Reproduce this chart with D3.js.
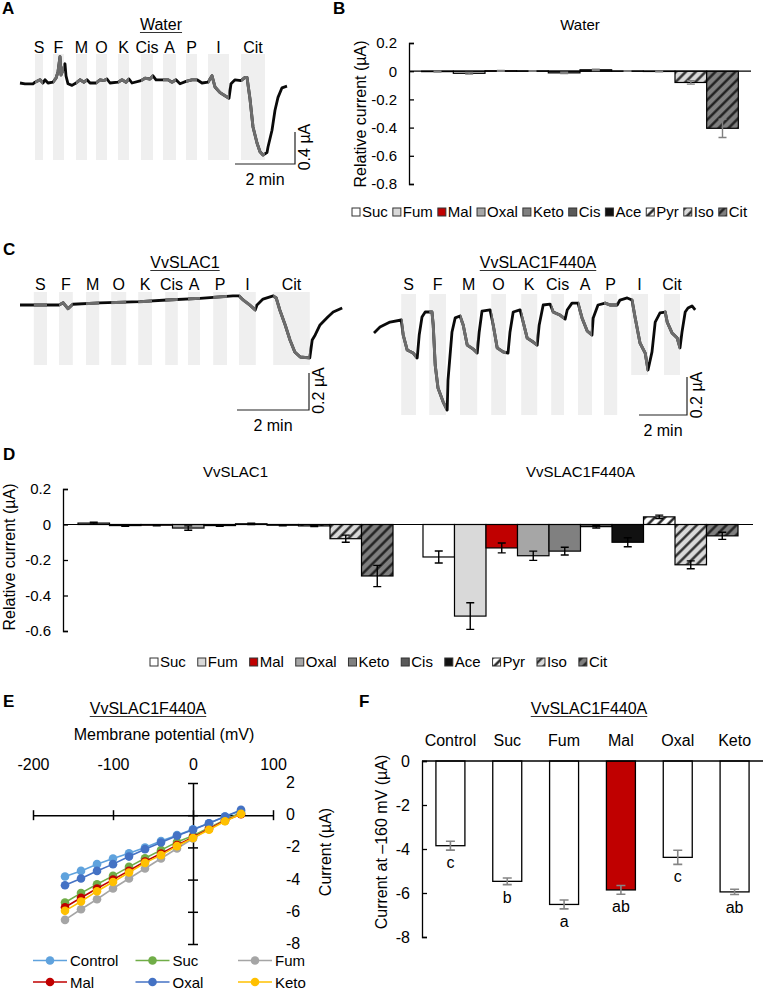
<!DOCTYPE html>
<html>
<head>
<meta charset="utf-8">
<script src="https://cdn.jsdelivr.net/npm/d3@7"></script>
<style>
  body { margin: 0; background: #fff; }
  svg { display: block; font-family: "Liberation Sans", Arial, sans-serif; }
</style>
</head>
<body>
<div id="container"></div>
<script>
// ---------------- data ----------------
var ions = ["Suc", "Fum", "Mal", "Oxal", "Keto", "Cis", "Ace", "Pyr", "Iso", "Cit"];
var traceLabels = ["S", "F", "M", "O", "K", "Cis", "A", "P", "I", "Cit"];

// recordings: [time (s), current (uA) relative to start]
var waterTrace = [[0,0],[10,-0.01],[26,-0.01],[30,0.01],[40,0.04],[46,0],[50,0.04],[56,0],[66,0.01],[72,0.06],[76,0.14],[80,0.33],[82,0.1],[86,0.16],[90,0.24],[92,0.09],[96,-0.01],[104,-0.03],[112,0],[120,0.04],[128,0.01],[134,0.04],[140,0],[152,0],[160,0.04],[168,0.03],[174,0.05],[180,0],[196,0.01],[204,0.04],[212,0.01],[218,0.05],[224,0],[242,0.03],[250,0.06],[260,0.05],[266,0.09],[272,0.04],[286,0.04],[296,0.04],[304,0.01],[312,0.04],[320,-0.01],[332,0.02],[344,0.04],[354,0.04],[364,0],[376,0.01],[384,0.09],[390,-0.05],[400,-0.12],[410,-0.16],[418,-0.19],[422,-0.01],[430,0.04],[442,0.03],[450,0.07],[454,0.07],[460,-0.2],[466,-0.55],[474,-0.75],[480,-0.86],[486,-0.9],[494,-0.87],[496,-0.8],[504,-0.59],[510,-0.34],[516,-0.18],[524,-0.06],[534,-0.04]];
var waterBands = [[30,46],[66,88],[112,134],[152,174],[196,218],[242,266],[286,312],[332,354],[376,418],[442,490]];

var slac1Trace = [[0,0],[40,0],[65,0],[72,0.012],[80,-0.02],[88,0.004],[133,0.011],[200,0.018],[245,0.027],[300,0.036],[355,0.049],[365,0.049],[372,0.027],[383,0],[392,-0.027],[395,0],[405,0.032],[422,0.049],[427,0.038],[433,-0.027],[442,-0.108],[450,-0.189],[458,-0.254],[467,-0.281],[483,-0.286],[487,-0.189],[492,-0.162],[500,-0.108],[513,-0.065],[522,-0.038],[537,-0.016]];
var slac1Bands = [[23,45],[65,88],[110,132],[152,177],[197,220],[242,263],[280,300],[322,345],[365,393],[422,483]];

var f440aTrace = [[0,-0.068],[15,-0.037],[40,-0.011],[68,0],[73,-0.079],[83,-0.158],[98,-0.174],[108,-0.2],[113,-0.079],[120,0.016],[128,0.042],[145,0.042],[148,-0.026],[153,-0.237],[160,-0.358],[173,-0.432],[183,-0.474],[185,-0.316],[195,-0.063],[203,0.011],[215,0.021],[223,-0.026],[233,-0.132],[248,-0.153],[258,-0.174],[263,-0.063],[270,0.047],[290,0.053],[298,-0.026],[308,-0.147],[323,-0.168],[335,-0.174],[340,-0.063],[348,0.042],[365,0.053],[373,-0.011],[383,-0.095],[398,-0.116],[408,-0.132],[413,-0.026],[423,0.079],[440,0.084],[448,0.042],[465,0.026],[478,0.005],[483,0.053],[495,0.089],[510,0.089],[520,0.011],[533,-0.058],[545,-0.079],[548,0.011],[560,0.079],[578,0.089],[590,0.079],[608,0.079],[615,0.105],[633,0.116],[645,0.105],[653,0.011],[665,-0.121],[678,-0.174],[685,-0.263],[695,-0.168],[703,-0.011],[715,0.037],[728,0.042],[733,-0.011],[745,-0.068],[758,-0.095],[765,-0.147],[770,-0.063],[778,0.042],[785,0.063],[795,0.074],[803,0.053]];
var f440aBands = [[68,105],[138,180],[215,258],[293,330],[368,408],[443,475],[510,545],[575,608],[643,685],[725,765]];

// bar charts: mean and error per ion (uA)
var waterMean = [-0.003, -0.015, 0.003, 0.002, -0.012, 0.01, 0.001, -0.002, -0.08, -0.405];
var waterErr  = [0.003, 0.006, 0.003, 0.002, 0.005, 0.005, 0.002, 0.002, 0.012, 0.065];
var slac1Mean = [0.008, -0.006, -0.004, -0.02, -0.006, 0.004, -0.004, -0.008, -0.08, -0.29];
var slac1Err  = [0.005, 0.004, 0.003, 0.012, 0.004, 0.004, 0.003, 0.004, 0.02, 0.06];
var f440aMean = [-0.183, -0.516, -0.132, -0.176, -0.15, -0.012, -0.1, 0.043, -0.227, -0.064];
var f440aErr  = [0.034, 0.075, 0.028, 0.026, 0.022, 0.008, 0.025, 0.01, 0.022, 0.02];

// I-V curves
var ivVoltage = [-160, -140, -120, -100, -80, -60, -40, -20, 0, 20, 40, 60];
var ivSeries = ["Control", "Suc", "Fum", "Mal", "Oxal", "Keto"];
var ivControl = [-3.81, -3.46, -3.04, -2.69, -2.36, -2.01, -1.6, -1.24, -0.87, -0.5, -0.08, 0.27];
var ivSuc     = [-5.42, -4.84, -4.29, -3.77, -3.21, -2.67, -2.17, -1.66, -1.28, -0.77, -0.29, 0.17];
var ivFum     = [-6.5, -5.84, -5.22, -4.55, -3.93, -3.31, -2.69, -2.07, -1.45, -0.83, -0.35, 0.1];
var ivMal     = [-5.72, -5.13, -4.55, -4.0, -3.45, -2.88, -2.38, -1.86, -1.36, -0.85, -0.33, 0.06];
var ivOxal    = [-4.35, -3.93, -3.46, -3.04, -2.57, -2.11, -1.7, -1.28, -0.91, -0.5, -0.08, 0.33];
var ivKeto    = [-5.94, -5.36, -4.72, -4.15, -3.56, -2.96, -2.48, -1.92, -1.42, -0.9, -0.38, 0.08];

// current at -160 mV
var f160Cats = ["Control", "Suc", "Fum", "Mal", "Oxal", "Keto"];
var f160Mean = [-3.85, -5.47, -6.52, -5.86, -4.38, -5.95];
var f160Err  = [0.2, 0.15, 0.2, 0.2, 0.32, 0.12];
var f160Letters = ["c", "b", "a", "ab", "c", "ab"];

// ---------------- setup ----------------
var svg = d3.select("div#container").append("svg")
  .attr("width", 763).attr("height", 991)
  .attr("viewBox", "0 0 763 991");

var defs = svg.append("defs");
function hatch(id, bg, fg) {
  var p = defs.append("pattern").attr("id", id)
    .attr("patternUnits", "userSpaceOnUse")
    .attr("width", 7).attr("height", 7)
    .attr("patternTransform", "rotate(45)");
  p.append("rect").attr("width", 7).attr("height", 7).attr("fill", bg);
  p.append("line").attr("x1", 1.5).attr("x2", 1.5).attr("y1", 0).attr("y2", 7)
    .attr("stroke", fg).attr("stroke-width", 2.3);
}
hatch("hPyr", "#ffffff", "#111");
hatch("hIso", "#d9d9d9", "#222");
hatch("hCit", "#7f7f7f", "#1a1a1a");

var ionFill = {Suc: "#ffffff", Fum: "#d9d9d9", Mal: "#c00000", Oxal: "#a6a6a6", Keto: "#808080",
  Cis: "#595959", Ace: "#111111", Pyr: "url(#hPyr)", Iso: "url(#hIso)", Cit: "url(#hCit)"};
var ivColor = {Control: "#5fa2dd", Suc: "#70ad47", Fum: "#a5a5a5", Mal: "#c00000", Oxal: "#4472c4", Keto: "#ffc000"};
var ivData = {Control: ivControl, Suc: ivSuc, Fum: ivFum, Mal: ivMal, Oxal: ivOxal, Keto: ivKeto};

function txt(x, y, s, size, anchor) {
  return svg.append("text").attr("x", x).attr("y", y)
    .attr("text-anchor", anchor || "middle")
    .style("font-size", size + "px").attr("fill", "#000").text(s);
}
function title(x, y, s, size, underline) {
  var t = txt(x, y, s, size);
  if (underline) {
    var w = t.node().getComputedTextLength();
    svg.append("line").attr("x1", x - w / 2).attr("x2", x + w / 2)
      .attr("y1", y + 2.5).attr("y2", y + 2.5)
      .attr("stroke", "#333").attr("stroke-width", 1.1);
  }
}
function rotText(x, y, s, size) {
  svg.append("text").attr("transform", "translate(" + x + "," + y + ") rotate(-90)")
    .attr("text-anchor", "middle").style("font-size", size + "px").text(s);
}
function panelLetter(x, y, s) {
  svg.append("text").attr("x", x).attr("y", y).style("font-size", "17px")
    .style("font-weight", "bold").text(s);
}

// ---------------- recordings (A, C) ----------------
function drawTrace(o) {
  var x = d3.scaleLinear().domain([0, 120]).range([o.left, o.left + o.px2min]);
  var y = d3.scaleLinear().domain([-1, 0]).range([o.base + o.pxPerUA, o.base]);
  var g = svg.append("g");

  g.selectAll("rect.band").data(o.bands).enter().append("rect")
    .attr("class", "band")
    .attr("x", function(d) { return x(d[0]); })
    .attr("width", function(d) { return x(d[1]) - x(d[0]); })
    .attr("y", o.bandTop)
    .attr("height", function(d, i) { return (o.shortBands && o.shortBands.indexOf(i) >= 0 ? o.shortBottom : o.bandBottom) - o.bandTop; })
    .attr("fill", "#efefef");

  g.selectAll("text.lab").data(o.bands).enter().append("text")
    .attr("class", "lab")
    .attr("x", function(d) { return x((d[0] + d[1]) / 2); })
    .attr("y", o.labelY)
    .attr("text-anchor", "middle")
    .style("font-size", "16px")
    .text(function(d, i) { return traceLabels[i]; });

  var clip = defs.append("clipPath").attr("id", o.id + "clip");
  clip.selectAll("rect").data(o.bands).enter().append("rect")
    .attr("x", function(d) { return x(d[0]); })
    .attr("width", function(d) { return x(d[1]) - x(d[0]); })
    .attr("y", 0).attr("height", 991);

  var line = d3.line().x(function(d) { return x(d[0]); }).y(function(d) { return y(d[1]); });
  g.append("path").datum(o.data).attr("d", line)
    .attr("fill", "none").attr("stroke", "#0a0a0a").attr("stroke-width", 2.8)
    .attr("stroke-linejoin", "round");
  g.append("path").datum(o.data).attr("d", line)
    .attr("clip-path", "url(#" + o.id + "clip)")
    .attr("fill", "none").attr("stroke", "#6c6c6c").attr("stroke-width", 3)
    .attr("stroke-linejoin", "round");

  title(o.titleX, o.titleY, o.title, 16, true);

  // scale bar
  var bw = x(120) - x(0), bh = y(-o.barUA) - y(0);
  g.append("path")
    .attr("d", "M" + (o.barX - bw) + "," + o.barY + "H" + o.barX + "V" + (o.barY - bh))
    .attr("fill", "none").attr("stroke", "#222").attr("stroke-width", 1.2);
  rotText(o.barX + 15, o.barY - bh / 2 - 1, o.barUA + " µA", 16);
  txt(o.barX - bw / 2, o.barY + 21, "2 min", 16);
}

drawTrace({id: "water", data: waterTrace, bands: waterBands, left: 20, px2min: 60, base: 83, pxPerUA: 80,
  bandTop: 54, bandBottom: 160, labelY: 53, title: "Water", titleX: 161, titleY: 30,
  barX: 295, barY: 164, barUA: 0.4});
drawTrace({id: "slac1", data: slac1Trace, bands: slac1Bands, left: 20, px2min: 72, base: 305, pxPerUA: 185,
  bandTop: 292, bandBottom: 365, labelY: 290, title: "VvSLAC1", titleX: 185, titleY: 268,
  barX: 309, barY: 410, barUA: 0.2});
drawTrace({id: "f440a", data: f440aTrace, bands: f440aBands, left: 374, px2min: 48, base: 320, pxPerUA: 190,
  bandTop: 294, bandBottom: 415, shortBands: [8, 9], shortBottom: 375, labelY: 290,
  title: "VvSLAC1F440A", titleX: 538, titleY: 268, barX: 687, barY: 415, barUA: 0.2});

// ---------------- bar charts (B, D) ----------------
function fmt1(d) { return d === 0 ? "0" : d.toFixed(1); }

function barPanel(o) {
  var y = d3.scaleLinear().domain(o.yDomain).range(o.yRange);
  var x0 = d3.scaleBand().domain(o.groups).range(o.xRange);
  var x1 = d3.scaleBand().domain(ions).range([0, x0.bandwidth()]).paddingOuter(o.outer);
  var g = svg.append("g");

  o.groups.forEach(function(grp, gi) {
    var rows = ions.map(function(ion, i) { return {ion: ion, m: o.means[gi][i], e: o.errs[gi][i]}; });
    var gg = g.append("g").attr("transform", "translate(" + x0(grp) + ",0)");
    gg.selectAll("rect").data(rows).enter().append("rect")
      .attr("x", function(d) { return x1(d.ion); })
      .attr("width", x1.bandwidth())
      .attr("y", function(d) { return y(Math.max(0, d.m)); })
      .attr("height", function(d) { return Math.abs(y(d.m) - y(0)); })
      .attr("fill", function(d) { return ionFill[d.ion]; })
      .attr("stroke", "#000").attr("stroke-width", 1.2);
    title(x0(grp) + x0.bandwidth() / 2, o.titleY, grp, 15, false);
  });

  g.append("line").attr("x1", o.xRange[0]).attr("x2", o.xRange[1])
    .attr("y1", y(0)).attr("y2", y(0)).attr("stroke", "#000").attr("stroke-width", 1.2);

  o.groups.forEach(function(grp, gi) {
    var rows = ions.map(function(ion, i) { return {ion: ion, m: o.means[gi][i], e: o.errs[gi][i]}; });
    var eg = g.append("g").attr("transform", "translate(" + x0(grp) + ",0)")
      .attr("stroke", o.errColor).attr("stroke-width", 1.4);
    rows.forEach(function(d) {
      var cx = x1(d.ion) + x1.bandwidth() / 2;
      eg.append("path").attr("fill", "none").attr("d",
        "M" + cx + "," + y(d.m - d.e) + "V" + y(d.m + d.e) +
        "M" + (cx - 4) + "," + y(d.m - d.e) + "H" + (cx + 4) +
        "M" + (cx - 4) + "," + y(d.m + d.e) + "H" + (cx + 4));
    });
  });

  g.append("g").attr("transform", "translate(" + o.xRange[0] + ",0)")
    .call(d3.axisLeft(y).tickValues(o.ticks).tickSizeInner(-5).tickSizeOuter(-5).tickPadding(12).tickFormat(fmt1))
    .call(function(a) {
      a.selectAll("text").style("font-size", "15px").attr("fill", "#000").attr("font-family", null);
      a.selectAll("path, line").attr("stroke", "#000").attr("stroke-width", 1.3);
    });

  rotText(o.yTitleX, o.yTitleY, "Relative current (µA)", 16);

  // legend
  var lx = o.legendX;
  ions.forEach(function(ion) {
    g.append("rect").attr("x", lx).attr("y", o.legendY - 9).attr("width", 8).attr("height", 8)
      .attr("fill", ionFill[ion]).attr("stroke", "#333").attr("stroke-width", 1);
    var t = g.append("text").attr("x", lx + 10).attr("y", o.legendY)
      .style("font-size", "15px").text(ion);
    lx += 10 + t.node().getComputedTextLength() + o.legendGap;
  });
}

barPanel({groups: ["Water"], means: [waterMean], errs: [waterErr],
  yDomain: [-0.8, 0.2], yRange: [184, 43], ticks: [0.2, 0, -0.2, -0.4, -0.6, -0.8],
  xRange: [409, 751], outer: 0.4, titleY: 30, errColor: "#808080",
  yTitleX: 366, yTitleY: 114, legendX: 352, legendY: 217, legendGap: 5});

barPanel({groups: ["VvSLAC1", "VvSLAC1F440A"], means: [slac1Mean, f440aMean], errs: [slac1Err, f440aErr],
  yDomain: [-0.6, 0.2], yRange: [631, 489], ticks: [0.2, 0, -0.2, -0.4, -0.6],
  xRange: [63, 753], outer: 0.476, titleY: 477, errColor: "#000",
  yTitleX: 15, yTitleY: 557, legendX: 150, legendY: 667, legendGap: 11.9});

// ---------------- I-V curves (E) ----------------
(function() {
  var x = d3.scaleLinear().domain([-200, 100]).range([33, 273]);
  var y = d3.scaleLinear().domain([-8, 2]).range([944, 783]);

  title(148, 714, "VvSLAC1F440A", 16, true);
  txt(164, 740, "Membrane potential (mV)", 16);

  var gx = svg.append("g").attr("transform", "translate(0," + y(0) + ")")
    .call(d3.axisBottom(x).tickValues([-200, -100, 0, 100]).tickSizeOuter(0).tickFormat(""));
  gx.selectAll(".tick line").attr("y1", -5).attr("y2", 5);
  var gy = svg.append("g").attr("transform", "translate(" + x(0) + ",0)")
    .call(d3.axisLeft(y).tickValues([2, 0, -2, -4, -6, -8]).tickSizeOuter(0).tickFormat(""));
  gy.selectAll(".tick line").attr("x1", -5).attr("x2", 5);
  [gx, gy].forEach(function(a) {
    a.selectAll("path, line").attr("stroke", "#000").attr("stroke-width", 1.5);
  });

  svg.append("g").attr("transform", "translate(0,770)")
    .call(d3.axisTop(x).tickValues([-200, -100, 0, 100]).tickSize(0).tickPadding(0).tickFormat(String))
    .call(function(a) { a.select(".domain").remove(); a.selectAll("text").style("font-size", "16px").attr("fill", "#000"); });
  svg.append("g").attr("transform", "translate(286,0)")
    .call(d3.axisRight(y).tickValues([2, 0, -2, -4, -6, -8]).tickSize(0).tickPadding(0).tickFormat(String))
    .call(function(a) {
      a.select(".domain").remove();
      a.selectAll("text").style("font-size", "16px").attr("fill", "#000").attr("dy", "0.28em");
    });

  rotText(331, 852, "Current (µA)", 16);

  var line = d3.line().x(function(d) { return x(d[0]); }).y(function(d) { return y(d[1]); });
  ivSeries.forEach(function(s) {
    var pts = ivVoltage.map(function(v, i) { return [v, ivData[s][i]]; });
    var g = svg.append("g");
    g.append("path").datum(pts).attr("d", line).attr("fill", "none")
      .attr("stroke", ivColor[s]).attr("stroke-width", 1.6);
    g.selectAll("circle").data(pts).enter().append("circle")
      .attr("cx", function(d) { return x(d[0]); })
      .attr("cy", function(d) { return y(d[1]); })
      .attr("r", 4.3).attr("fill", ivColor[s]);
  });

  ivSeries.forEach(function(s, i) {
    var lx = 33 + (i % 3) * 102.5, ly = 960.5 + Math.floor(i / 3) * 21.5;
    svg.append("line").attr("x1", lx).attr("x2", lx + 34).attr("y1", ly).attr("y2", ly)
      .attr("stroke", ivColor[s]).attr("stroke-width", 1.6);
    svg.append("circle").attr("cx", lx + 17).attr("cy", ly).attr("r", 4.3).attr("fill", ivColor[s]);
    txt(lx + 37, ly + 5.5, s, 15, "start");
  });
})();

// ---------------- current at -160 mV (F) ----------------
(function() {
  var x = d3.scaleBand().domain(f160Cats).range([422, 763]).paddingInner(0.49).paddingOuter(0.245);
  var y = d3.scaleLinear().domain([-8, 0]).range([937, 761]);
  var rows = f160Cats.map(function(c, i) { return {c: c, m: f160Mean[i], e: f160Err[i], l: f160Letters[i]}; });

  title(589, 714, "VvSLAC1F440A", 16, true);

  svg.append("g").selectAll("rect").data(rows).enter().append("rect")
    .attr("x", function(d) { return x(d.c); })
    .attr("width", x.bandwidth())
    .attr("y", y(0))
    .attr("height", function(d) { return y(d.m) - y(0); })
    .attr("fill", function(d) { return d.c === "Mal" ? "#c00000" : "#fff"; })
    .attr("stroke", "#000").attr("stroke-width", 1.3);

  svg.append("line").attr("x1", 422).attr("x2", 763).attr("y1", y(0)).attr("y2", y(0))
    .attr("stroke", "#000").attr("stroke-width", 1.3);

  var eg = svg.append("g").attr("stroke", "#858585").attr("stroke-width", 1.6).attr("fill", "none");
  rows.forEach(function(d) {
    var cx = x(d.c) + x.bandwidth() / 2;
    eg.append("path").attr("d",
      "M" + cx + "," + y(d.m - d.e) + "V" + y(d.m + d.e) +
      "M" + (cx - 4.5) + "," + y(d.m - d.e) + "H" + (cx + 4.5) +
      "M" + (cx - 4.5) + "," + y(d.m + d.e) + "H" + (cx + 4.5));
    txt(cx, y(d.m - d.e) + 18, d.l, 16);
  });

  svg.append("g").attr("transform", "translate(422,0)")
    .call(d3.axisLeft(y).tickValues([0, -2, -4, -6, -8]).tickSizeInner(-5).tickSizeOuter(-5).tickPadding(12).tickFormat(String))
    .call(function(a) {
      a.selectAll("text").style("font-size", "16px").attr("fill", "#000");
      a.selectAll("path, line").attr("stroke", "#000").attr("stroke-width", 1.3);
    });

  svg.append("g").attr("transform", "translate(0,746)")
    .call(d3.axisTop(x).tickSize(0).tickPadding(0))
    .call(function(a) { a.select(".domain").remove(); a.selectAll("text").style("font-size", "16px").attr("fill", "#000"); });

  rotText(387, 842, "Current at \u2013160 mV (µA)", 16);
})();

// panel letters
panelLetter(2, 14, "A");
panelLetter(333, 14, "B");
panelLetter(3, 255, "C");
panelLetter(3, 460, "D");
panelLetter(3, 707, "E");
panelLetter(359, 707, "F");
</script>
</body>
</html>
